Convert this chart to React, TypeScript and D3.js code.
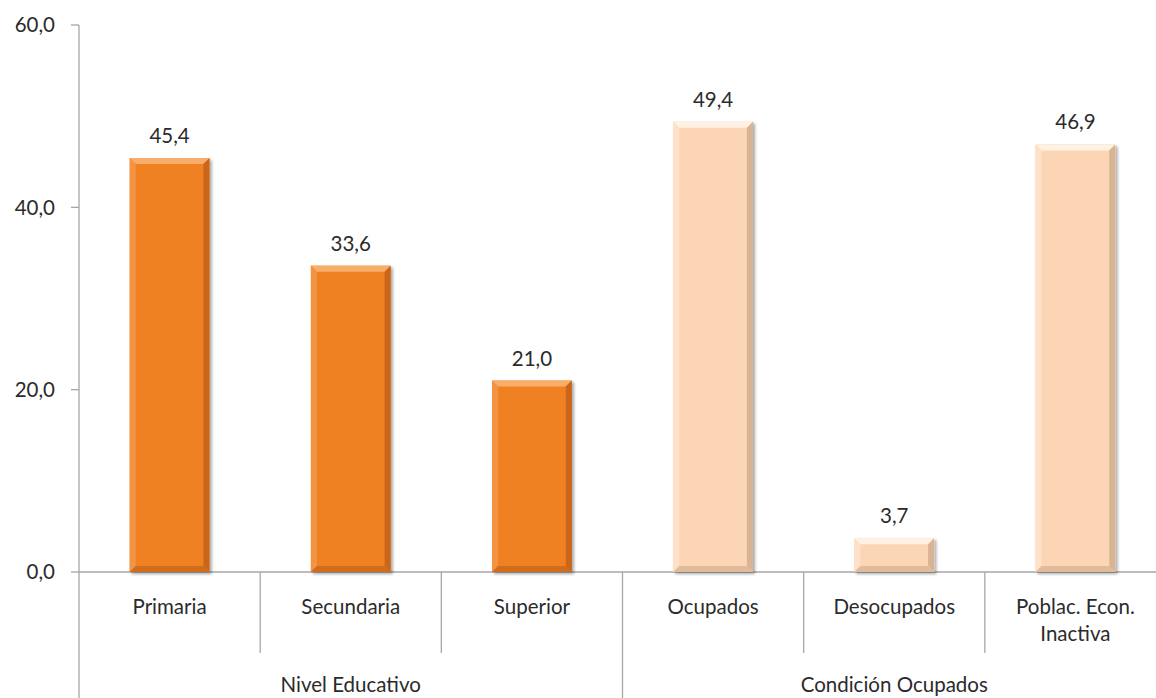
import React from "react";
import * as d3 from "d3";

const categories = ["Primaria", "Secundaria", "Superior", "Ocupados", "Desocupados", "Poblac. Econ.|Inactiva"];
const values = [45.4, 33.6, 21.0, 49.4, 3.7, 46.9];
const groups = ["Nivel Educativo", "Nivel Educativo", "Nivel Educativo", "Condición Ocupados", "Condición Ocupados", "Condición Ocupados"];
const groupNames = ["Nivel Educativo", "Condición Ocupados"];
const yTicks = [0, 20, 40, 60];

const W = 1156, H = 698;
const x0 = 79, x1 = 1166, yTop = 25, yBot = 572;
const font = "Lato, 'Open Sans', sans-serif";
const fs = 20.5;
const textColor = "#2b2b2b";
const axisColor = "#a6a6a6";

const palettes: Record<string, { main: string; top: string; left: string; right: string; bottom: string }> = {
  "Nivel Educativo": { main: "#F08122", top: "#F8AE6A", left: "#F39445", right: "#C9661A", bottom: "#D06C1E" },
  "Condición Ocupados": { main: "#FCD5B4", top: "#FFF1E4", left: "#FDE1C9", right: "#D8B394", bottom: "#E1BC9C" },
};

export default function App() {
  const x = d3.scaleBand<string>().domain(categories).range([x0, x1]).paddingInner(0.56).paddingOuter(0.28);
  const xb = d3.scaleBand<string>().domain(categories).range([x0, x1]);
  const y = d3.scaleLinear().domain([0, 60]).range([yBot, yTop]);
  const fmt = (v: number) => d3.format(".1f")(v).replace(".", ",");
  const b = 6;

  return (
    <svg width={W} height={H} style={{ display: "block", position: "absolute", left: 0, top: 0, background: "#fff" }}>
      <defs>
        <filter id="sh" x="-20%" y="-20%" width="140%" height="140%">
          <feGaussianBlur in="SourceAlpha" stdDeviation="1.5" />
          <feOffset dx="1.5" dy="1.5" result="o" />
          <feComponentTransfer><feFuncA type="linear" slope="0.35" /></feComponentTransfer>
          <feMerge><feMergeNode /><feMergeNode in="SourceGraphic" /></feMerge>
        </filter>
      </defs>
      <line x1={x0} x2={x0} y1={yTop} y2={H} stroke={axisColor} strokeWidth={1.3} />
      {yTicks.map((t) => (
        <g key={t}>
          <line x1={x0 - 8} x2={x0} y1={y(t)} y2={y(t)} stroke={axisColor} strokeWidth={1.3} />
          <text x={55} y={y(t)} dy="0.35em" textAnchor="end" fontFamily={font} fontSize={fs} fill={textColor}>{fmt(t)}</text>
        </g>
      ))}
      <line x1={x0} x2={W} y1={yBot} y2={yBot} stroke={axisColor} strokeWidth={1.3} />
      {categories.map((c, i) => {
        if (i === 0) return null;
        const bx = xb(c)!;
        const isGroup = groups[i] !== groups[i - 1];
        return <line key={"s" + c} x1={bx} x2={bx} y1={yBot} y2={isGroup ? H : 653} stroke={axisColor} strokeWidth={1.3} />;
      })}
      {categories.map((c, i) => {
        const p = palettes[groups[i]];
        const bx = x(c)!;
        const w = x.bandwidth();
        const by = y(values[i]);
        const h = yBot - by;
        const bb = Math.min(b, h / 2);
        return (
          <g key={c} filter="url(#sh)">
            <rect x={bx} y={by} width={w} height={h} fill={p.main} />
            <polygon points={`${bx},${by} ${bx + w},${by} ${bx + w - bb},${by + bb} ${bx + bb},${by + bb}`} fill={p.top} />
            <polygon points={`${bx},${by} ${bx + bb},${by + bb} ${bx + bb},${by + h - bb} ${bx},${by + h}`} fill={p.left} />
            <polygon points={`${bx + w},${by} ${bx + w - bb},${by + bb} ${bx + w - bb},${by + h - bb} ${bx + w},${by + h}`} fill={p.right} />
            <polygon points={`${bx},${by + h} ${bx + bb},${by + h - bb} ${bx + w - bb},${by + h - bb} ${bx + w},${by + h}`} fill={p.bottom} />
          </g>
        );
      })}
      {categories.map((c, i) => (
        <text key={"v" + c} x={x(c)! + x.bandwidth() / 2} y={y(values[i]) - 15} textAnchor="middle" fontFamily={font} fontSize={fs} fill={textColor}>{fmt(values[i])}</text>
      ))}
      {categories.map((c) => {
        const lines = c.split("|");
        const cx = xb(c)! + xb.bandwidth() / 2;
        return (
          <text key={"c" + c} textAnchor="middle" fontFamily={font} fontSize={fs} fill={textColor}>
            {lines.map((l, j) => (
              <tspan key={j} x={cx} y={614 + j * 27}>{l}</tspan>
            ))}
          </text>
        );
      })}
      {groupNames.map((g) => {
        const idx = categories.filter((_, i) => groups[i] === g);
        const start = xb(idx[0])!;
        const end = xb(idx[idx.length - 1])! + xb.bandwidth();
        return (
          <text key={g} x={(start + end) / 2} y={692} textAnchor="middle" fontFamily={font} fontSize={fs} fill={textColor}>{g}</text>
        );
      })}
    </svg>
  );
}
